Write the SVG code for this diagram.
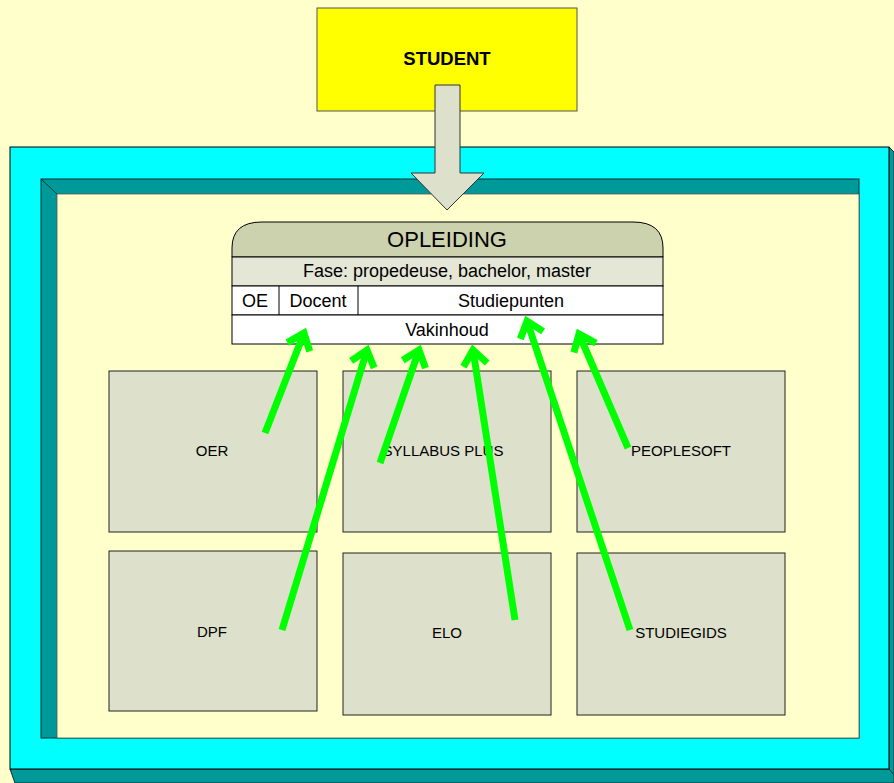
<svg xmlns="http://www.w3.org/2000/svg" width="894" height="783" viewBox="0 0 894 783">
<style>
text{font-family:"Liberation Sans",Arial,sans-serif;fill:#000;text-anchor:middle}
.box{fill:#DDE0CB;stroke:#222;stroke-width:1}
.lbl{font-size:15px}
.row{font-size:18px}
.g{stroke:#00FF00;stroke-width:7;fill:none}
</style>
<defs>
<marker id="ah" markerUnits="userSpaceOnUse" markerWidth="40" markerHeight="40" viewBox="-20 -20 40 40" refX="0" refY="0" orient="auto" overflow="visible">
<path d="M-15,-12 L0,0 L-15,12" fill="none" stroke="#00FF00" stroke-width="7" stroke-linejoin="miter"/>
</marker>
</defs>
<rect width="894" height="783" fill="#FFFFCC"/>
<g id="frame">
<polygon points="889,147 894,152 894,783 889,769" fill="#009999" stroke="#003333" stroke-width="1"/>
<polygon points="10,769 889,769 894,775 894,783 15,783" fill="#009999" stroke="#003333" stroke-width="1"/>
<rect x="10" y="147" width="879" height="622" fill="#00FFFF" stroke="#000" stroke-width="1"/>
<rect x="41" y="179" width="818" height="559" fill="#009999" stroke="#003333" stroke-width="1"/>
<rect x="57" y="194" width="802" height="544" fill="#FFFFCC" stroke="#555" stroke-width="0.8"/>
<line x1="41" y1="179" x2="57" y2="194" stroke="#003333" stroke-width="1"/>
</g>
<g id="student">
<rect x="317" y="8" width="260" height="103" fill="#FFFF00" stroke="#555" stroke-width="1"/>
<text x="447" y="65" style="font-size:18.5px;font-weight:bold">STUDENT</text>
</g>
<g id="bigarrow">
<polygon points="435,85 460,85 460,173 484,173 447,210 411,173 435,173" fill="#DDE0CB" stroke="#333" stroke-width="1"/>
</g>
<g id="opleiding">
<path d="M232,257 L232,248 Q232,222 262,222 L633,222 Q663,222 663,248 L663,257 Z" fill="#CCD2AE" stroke="#000" stroke-width="1"/>
<rect x="232" y="257" width="431" height="29" fill="#E4E7D6" stroke="#000" stroke-width="1"/>
<rect x="232" y="286" width="431" height="29" fill="#FFFFFF" stroke="#000" stroke-width="1"/>
<rect x="232" y="315" width="431" height="29" fill="#FFFFFF" stroke="#000" stroke-width="1"/>
<line x1="279" y1="286" x2="279" y2="315" stroke="#000" stroke-width="1"/>
<line x1="358" y1="286" x2="358" y2="315" stroke="#000" stroke-width="1"/>
<text x="447" y="247" style="font-size:22px">OPLEIDING</text>
<text x="447" y="277" class="row">Fase: propedeuse, bachelor, master</text>
<text x="255" y="307" class="row">OE</text>
<text x="318" y="307" class="row">Docent</text>
<text x="511" y="307" class="row">Studiepunten</text>
<text x="447" y="336" class="row">Vakinhoud</text>
</g>
<g id="oer"><rect class="box" x="109" y="371" width="208" height="161"/><text class="lbl" x="212" y="456">OER</text></g>
<g id="syllabus"><rect class="box" x="343" y="371" width="208" height="161"/><text class="lbl" x="443" y="456">SYLLABUS PLUS</text></g>
<g id="peoplesoft"><rect class="box" x="577" y="371" width="208" height="161"/><text class="lbl" x="681" y="456">PEOPLESOFT</text></g>
<g id="dpf"><rect class="box" x="109" y="551" width="208" height="160"/><text class="lbl" x="212" y="637">DPF</text></g>
<g id="elo"><rect class="box" x="343" y="553" width="208" height="162"/><text class="lbl" x="447" y="638">ELO</text></g>
<g id="studiegids"><rect class="box" x="577" y="553" width="208" height="162"/><text class="lbl" x="681" y="638">STUDIEGIDS</text></g>
<g id="connectors">
<line class="g" x1="265" y1="433" x2="304" y2="333" marker-end="url(#ah)"/>
<line class="g" x1="282" y1="630" x2="367" y2="350" marker-end="url(#ah)"/>
<line class="g" x1="380" y1="463" x2="419" y2="350" marker-end="url(#ah)"/>
<line class="g" x1="515" y1="620" x2="473" y2="350" marker-end="url(#ah)"/>
<line class="g" x1="630" y1="630" x2="527" y2="321" marker-end="url(#ah)"/>
<line class="g" x1="628" y1="448" x2="579" y2="334" marker-end="url(#ah)"/>
</g>
</svg>
